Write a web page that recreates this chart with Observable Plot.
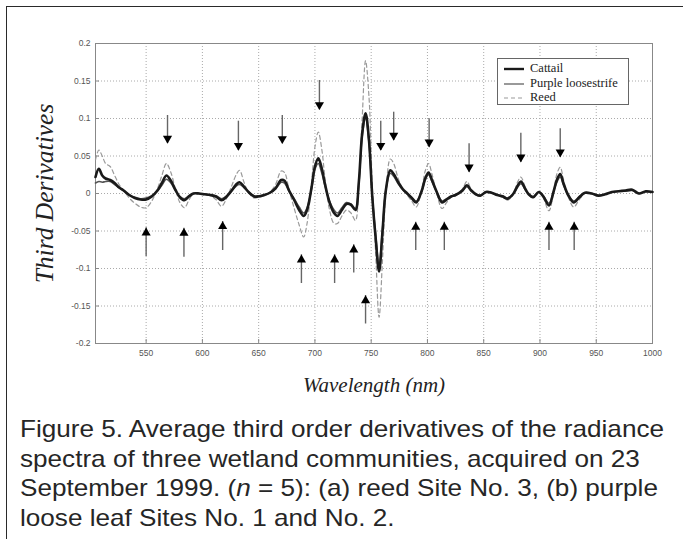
<!DOCTYPE html>
<html><head><meta charset="utf-8">
<script src="https://cdn.jsdelivr.net/npm/d3@7"></script>
<script src="https://cdn.jsdelivr.net/npm/@observablehq/plot@0.6"></script>
<style>
body{margin:0;background:#fff;}
#fig{position:relative;width:683px;height:539px;overflow:hidden;background:#fff;}
#border{position:absolute;left:6px;top:6px;width:760px;height:620px;border-left:1.6px solid #2a2a2a;border-top:1.6px solid #2a2a2a;}
#chart{position:absolute;left:0;top:0;}
#legend{position:absolute;left:497px;top:58px;width:130px;height:45px;border:1px solid #666;background:#fff;font-family:"Liberation Serif","DejaVu Serif",serif;font-size:12.5px;color:#222;}
#legend .row{position:absolute;left:6px;height:14px;line-height:14px;white-space:nowrap;}
#legend svg{vertical-align:middle;margin-right:6px;}
#caption{position:absolute;left:20px;top:414px;font-family:"Liberation Sans",Arial,sans-serif;font-size:24px;line-height:29.7px;color:#262626;transform-origin:0 0;}
#caption div{white-space:nowrap;}
</style>
</head><body>
<div id="fig">
  <div id="border"></div>
  <div id="chart"></div>
  <div id="legend"></div>
  <div id="caption"></div>
</div>
<script>
// ---- data ----
const wavelengths = [505,508,511,514,518,522,526,530,535,540,545,550,555,560,564,568,572,576,580,584,588,592,597,602,607,612,617,621,626,630,633,637,641,646,650,655,660,665,670,673,677,682,686,690,693,697,700,703,706,709,713,717,720,724,728,732,736,739,742,745,748,751,754,757,760,763,767,770,774,778,782,786,790,795,798,801,804,808,813,817,821,825,831,835,839,843,847,852,857,862,867,871,876,880,883,887,890,894,899,903,908,912,915,918,921,925,930,935,940,946,952,958,964,970,976,982,988,994,1000];
const cattail = [0.022,0.033,0.024,0.020,0.018,0.014,0.008,0.004,-0.002,-0.006,-0.008,-0.008,-0.004,0.004,0.014,0.024,0.017,0.005,-0.005,-0.009,-0.004,0.000,0.000,-0.001,-0.002,-0.004,-0.009,-0.005,0.004,0.012,0.015,0.009,0.002,-0.004,-0.004,-0.002,0.001,0.007,0.018,0.017,0.004,-0.010,-0.022,-0.030,-0.022,0.008,0.036,0.047,0.034,0.012,-0.012,-0.026,-0.030,-0.022,-0.014,-0.015,-0.022,0.015,0.080,0.107,0.072,-0.005,-0.060,-0.104,-0.052,0.004,0.031,0.026,0.015,0.006,0.000,-0.006,-0.012,0.004,0.020,0.028,0.018,0.003,-0.012,-0.008,-0.004,-0.002,0.004,0.011,0.004,-0.001,-0.003,0.002,0.001,-0.002,-0.004,-0.007,-0.001,0.010,0.016,0.006,-0.001,-0.005,0.002,-0.004,-0.016,0.002,0.018,0.026,0.013,-0.002,-0.012,-0.005,0.001,0.000,-0.003,-0.001,0.002,0.003,0.004,0.005,0.000,0.003,0.002];
const loosestrife = [0.014,0.016,0.015,0.016,0.016,0.012,0.008,0.004,-0.002,-0.005,-0.007,-0.006,-0.003,0.003,0.011,0.019,0.014,0.004,-0.004,-0.007,-0.003,0.000,0.000,-0.001,-0.002,-0.003,-0.007,-0.004,0.003,0.010,0.012,0.008,0.002,-0.003,-0.003,-0.002,0.001,0.006,0.015,0.014,0.003,-0.008,-0.018,-0.026,-0.019,0.006,0.032,0.040,0.028,0.010,-0.010,-0.022,-0.026,-0.019,-0.012,-0.014,-0.020,0.012,0.076,0.100,0.068,-0.004,-0.055,-0.095,-0.048,0.004,0.027,0.023,0.013,0.005,0.000,-0.005,-0.010,0.003,0.018,0.025,0.016,0.003,-0.010,-0.007,-0.004,-0.002,0.003,0.009,0.003,-0.001,-0.002,0.002,0.001,-0.002,-0.003,-0.006,-0.001,0.008,0.013,0.005,-0.001,-0.004,0.002,-0.003,-0.013,0.002,0.015,0.022,0.011,-0.002,-0.010,-0.004,0.001,0.000,-0.002,-0.001,0.002,0.003,0.003,0.004,0.000,0.002,0.002];
const reed = [0.045,0.058,0.050,0.040,0.036,0.024,0.012,0.004,-0.006,-0.013,-0.018,-0.019,-0.010,0.006,0.024,0.040,0.028,0.006,-0.012,-0.019,-0.009,0.000,-0.001,-0.002,-0.003,-0.008,-0.017,-0.008,0.010,0.025,0.031,0.015,0.001,-0.006,-0.005,-0.003,0.002,0.012,0.030,0.028,0.005,-0.022,-0.042,-0.058,-0.040,0.015,0.062,0.082,0.060,0.020,-0.022,-0.040,-0.040,-0.030,-0.022,-0.026,-0.036,0.010,0.100,0.177,0.130,0.010,-0.080,-0.165,-0.090,0.000,0.046,0.040,0.020,0.006,-0.002,-0.010,-0.018,0.006,0.030,0.040,0.026,0.002,-0.020,-0.012,-0.005,-0.003,0.006,0.016,0.005,-0.002,-0.003,0.003,0.001,-0.002,-0.005,-0.009,-0.002,0.015,0.022,0.008,-0.002,-0.006,0.003,-0.006,-0.023,0.001,0.026,0.035,0.018,-0.004,-0.018,-0.008,0.000,0.000,-0.003,-0.001,0.002,0.003,0.004,0.005,0.000,0.003,0.002];
const seriesNames = ["Cattail","Purple loosestrife","Reed"];

// arrows: down arrows point at peaks, up arrows point at troughs
const downArrowWl   = [569,632,671,704,758.5,770,801.5,837,883,918];
const downArrowTail = [0.104,0.0964,0.104,0.1507,0.0964,0.1084,0.0996,0.0663,0.0804,0.0863];
const downArrowTip  = [0.0667,0.0573,0.0663,0.1116,0.0573,0.0707,0.0617,0.0284,0.0417,0.0484];
const upArrowWl   = [550,583.6,618,688,717.5,734.5,745,789.6,815,908,930.4];
const upArrowTail = [-0.084,-0.085,-0.076,-0.12,-0.12,-0.106,-0.174,-0.076,-0.076,-0.076,-0.076];
const upArrowTip  = [-0.0457,-0.0463,-0.0373,-0.0817,-0.0817,-0.0684,-0.136,-0.0383,-0.0383,-0.0383,-0.0383];

const xTicks = [550,600,650,700,750,800,850,900,950,1000];
const xTickLabels = ["550","600","650","700","750","800","850","900","950","1000"];
const yTicks = [-0.2,-0.15,-0.1,-0.05,0,0.05,0.1,0.15,0.2];
const yTickLabels = ["-0.2","-0.15","-0.1","-0.05","0","0.05","0.1","0.15","0.2"];
const xDomain = [505,1000];
const yDomain = [-0.2,0.2];
const xLabel = "Wavelength (nm)";
const yLabel = "Third Derivatives";
const captionLines = [
  "Figure 5. Average third order derivatives of the radiance",
  "spectra of three wetland communities, acquired on 23",
  "September 1999. (<i>n</i> = 5): (a) reed Site No. 3, (b) purple",
  "loose leaf Sites No. 1 and No. 2."
];

// ---- tables ----
const mk = vals => wavelengths.map((w,i)=>({wl:w, v:vals[i]}));
const cat = mk(cattail), pur = mk(loosestrife), rd = mk(reed);
const downs = downArrowWl.map((w,i)=>({wl:w, tail:downArrowTail[i], tip:downArrowTip[i]}));
const ups = upArrowWl.map((w,i)=>({wl:w, tail:upArrowTail[i], tip:upArrowTip[i]}));

const tickFont = {fontFamily:"Liberation Sans, Arial, sans-serif", fontSize: 8.5, fill:"#555"};

const chart = Plot.plot({
  width: 683, height: 400,
  marginLeft: 95, marginRight: 31, marginTop: 43, marginBottom: 57,
  style: {background:"transparent", overflow:"visible"},
  x: {domain: xDomain},
  y: {domain: yDomain},
  marks: [
    Plot.gridX({ticks: xTicks, stroke:"#aaa", strokeOpacity:1, strokeDasharray:"1,2"}),
    Plot.gridY({ticks: yTicks, stroke:"#aaa", strokeOpacity:1, strokeDasharray:"1,2"}),
    Plot.frame({stroke:"#888"}),
    Plot.axisX({ticks: xTicks, tickSize: 0, tickPadding: 6, tickFormat: d => xTickLabels[xTicks.indexOf(d)], label: null, ...tickFont}),
    Plot.axisX({ticks: xTicks, tickSize: 4, anchor:"bottom", tickFormat: () => "", label: null, stroke:"#888", dy:-4}),
    Plot.axisY({ticks: yTicks, tickSize: 0, tickPadding: 5, tickFormat: d => yTickLabels[yTicks.findIndex(t=>Math.abs(t-d)<1e-9)], label: null, ...tickFont}),
    Plot.axisY({ticks: yTicks, tickSize: 4, anchor:"left", tickFormat: () => "", label: null, stroke:"#888", dx:4}),
    Plot.line(rd, {x:"wl", y:"v", stroke:"#9a9a9a", strokeWidth:1.2, strokeDasharray:"4,3", curve:"catmull-rom"}),
    Plot.line(pur, {x:"wl", y:"v", stroke:"#555", strokeWidth:1.6, curve:"catmull-rom"}),
    Plot.line(cat, {x:"wl", y:"v", stroke:"#1a1a1a", strokeWidth:2.6, curve:"catmull-rom"}),
    Plot.ruleX(downs, {x:"wl", y1:"tail", y2:"tip", stroke:"#666", strokeWidth:1.4}),
    Plot.ruleX(ups, {x:"wl", y1:"tail", y2:"tip", stroke:"#666", strokeWidth:1.4}),
    Plot.dot(downs, {x:"wl", y:"tip", symbol:"triangle", rotate:180, r:3.4, fill:"#000", stroke:"none", dy:-5}),
    Plot.dot(ups, {x:"wl", y:"tip", symbol:"triangle", r:3.4, fill:"#000", stroke:"none", dy:5}),
    Plot.text([xLabel], {frameAnchor:"bottom", text: d=>d, dy:42, lineAnchor:"middle", fontFamily:"Liberation Serif, Times New Roman, serif", fontStyle:"italic", fontSize:21, fill:"#222"}),
    Plot.text([yLabel], {frameAnchor:"left", text: d=>d, dx:-51, rotate:-90, textAnchor:"middle", lineAnchor:"middle", fontFamily:"Liberation Serif, Times New Roman, serif", fontStyle:"italic", fontSize:25.5, fill:"#222"})
  ]
});
document.getElementById("chart").appendChild(chart);

// legend
const legend = document.getElementById("legend");
const styles = [
  {stroke:"#1a1a1a", w:2.4, dash:""},
  {stroke:"#555", w:1.2, dash:""},
  {stroke:"#9a9a9a", w:1.2, dash:"4,3"}
];
seriesNames.forEach((n,i)=>{
  const row = document.createElement("div");
  row.className="row";
  row.style.top = (2 + i*14.5) + "px";
  const s = styles[i];
  row.innerHTML = `<svg width="20" height="6"><line x1="0" x2="20" y1="3" y2="3" stroke="${s.stroke}" stroke-width="${s.w}" stroke-dasharray="${s.dash}"/></svg>${n}`;
  legend.appendChild(row);
});

// caption: condensed look by horizontal scaling to the reference line width
const cap = document.getElementById("caption");
captionLines.forEach(t=>{ const d=document.createElement("div"); d.innerHTML=t; cap.appendChild(d); });
const first = cap.firstChild;
const span = document.createElement("span"); span.innerHTML = first.innerHTML; first.innerHTML=""; first.appendChild(span);
const w = span.getBoundingClientRect().width;
cap.style.transform = `scaleX(${(644/w).toFixed(4)})`;
</script>
</body></html>
